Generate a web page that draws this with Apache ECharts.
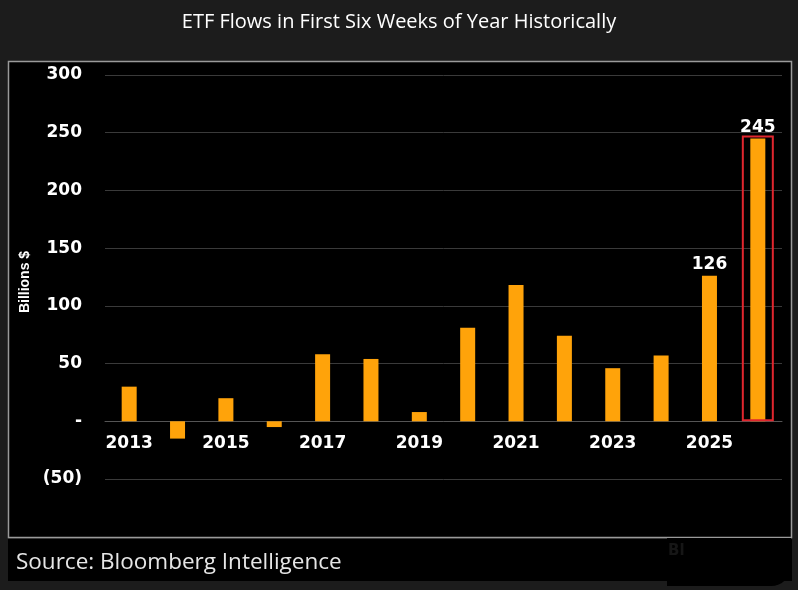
<!DOCTYPE html>
<html>
<head>
<meta charset="utf-8">
<script src="https://cdn.jsdelivr.net/npm/echarts@6/dist/echarts.min.js"></script>
<style>
html,body{margin:0;padding:0;background:#1c1c1c;}
#c{width:798px;height:590px;}
</style>
</head>
<body>
<div id="c"></div>
<script>
const years = ['2013','2014','2015','2016','2017','2018','2019','2020','2021','2022','2023','2024','2025','2026'];
const flows = [30, -15, 20, -5, 58, 54, 8, 81, 118, 74, 46, 57, 126, 245];
const labeledYears = ['2025'];
const highlightYear = '2026';
const highlightBoxValue = 247.5;
const yTicks = { min: -50, max: 300, interval: 50 };

const chart = echarts.init(document.getElementById('c'));
const tickFont = { color: '#ffffff', fontFamily: 'DejaVu Sans', fontWeight: 'bold', fontSize: 17 };

const mainData = years.map((y, i) => labeledYears.includes(y)
  ? { value: flows[i], label: { show: true } }
  : flows[i]);
const boxData = years.map((y, i) => y === highlightYear ? highlightBoxValue : null);
const boxLabelValue = flows[years.indexOf(highlightYear)];

chart.setOption({
  backgroundColor: '#1c1c1c',
  animation: false,
  title: [{
    text: 'ETF Flows in First Six Weeks of Year Historically',
    left: 'center', top: 7,
    textStyle: { color: '#ffffff', fontFamily: 'Open Sans', fontWeight: 'normal', fontSize: 20 }
  }, {
    text: 'Source: Bloomberg Intelligence',
    left: 11, top: 546,
    textStyle: { color: '#e6e6e6', fontFamily: 'Open Sans', fontWeight: 'normal', fontSize: 22.5 }
  }],
  graphic: [
    { type: 'rect', z: -10, shape: { x: 8.5, y: 61.5, width: 783, height: 476 },
      style: { fill: '#000000', stroke: '#9a9a9a', lineWidth: 1.5 } },
    { type: 'rect', z: -10, shape: { x: 8, y: 539, width: 784, height: 42 },
      style: { fill: '#000000' } },
    { type: 'rect', z: -9, shape: { x: 667, y: 538, width: 124, height: 48, r: [0, 0, 20, 0] },
      style: { fill: '#000000' } },
    { type: 'text', z: -8, left: 668, top: 544,
      style: { text: 'Bl', fill: '#161616', font: 'bold 15px "DejaVu Sans"' } }
  ],
  grid: { left: 105, right: 16, top: 75, bottom: 111, containLabel: false },
  xAxis: [{
    type: 'category', data: years, position: 'bottom', offset: -57.5,
    axisLine: { show: true, onZero: false, lineStyle: { color: '#555555', width: 1 } },
    axisTick: { show: false },
    axisLabel: Object.assign({ interval: 1, margin: 14 }, tickFont)
  }, {
    type: 'category', data: years, show: false
  }],
  yAxis: {
    type: 'value', min: yTicks.min, max: yTicks.max, interval: yTicks.interval,
    name: 'Billions $', nameLocation: 'middle', nameGap: 71, nameRotate: 90,
    nameTextStyle: { color: '#ffffff', fontFamily: 'Liberation Sans', fontWeight: 'bold', fontSize: 14, padding: [0, 0, 0, -10] },
    axisLine: { show: false }, axisTick: { show: false },
    axisLabel: Object.assign({
      margin: 23,
      formatter: v => v === 0 ? '-' : (v < 0 ? '(' + Math.abs(v) + ')' : String(v))
    }, tickFont),
    splitLine: { lineStyle: { color: '#3a3a3a', width: 1 } }
  },
  series: [{
    type: 'bar', xAxisIndex: 0, data: mainData, barWidth: 15,
    itemStyle: { color: '#ffa30a' },
    label: Object.assign({ show: false, position: 'top', distance: 3 }, tickFont)
  }, {
    type: 'bar', xAxisIndex: 1, data: boxData, barWidth: 32, z: 3,
    itemStyle: { color: 'rgba(0,0,0,0)', borderColor: '#e0262e', borderWidth: 2 },
    label: Object.assign({ show: true, position: 'top', distance: 0, formatter: () => String(boxLabelValue) }, tickFont)
  }]
});
</script>
</body>
</html>
